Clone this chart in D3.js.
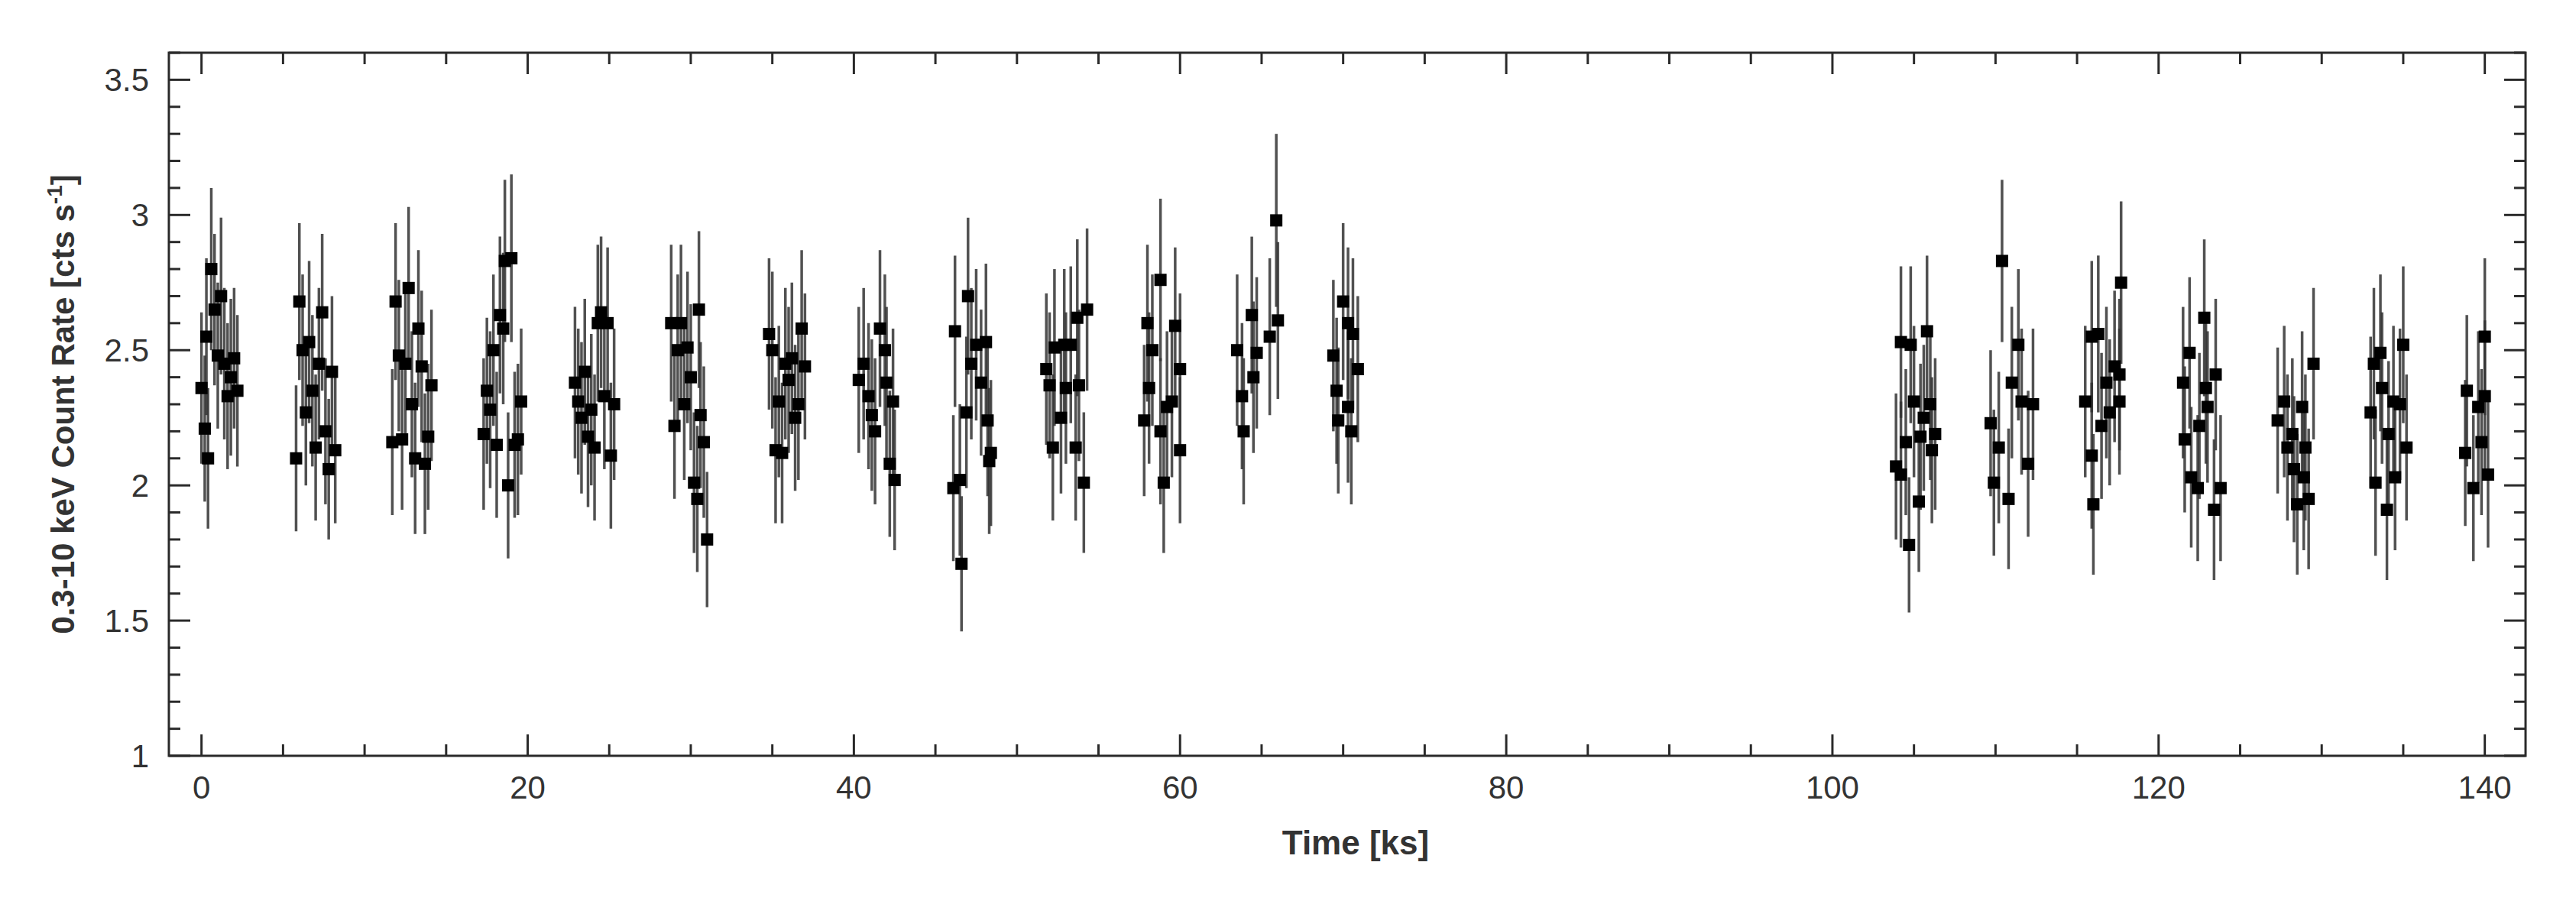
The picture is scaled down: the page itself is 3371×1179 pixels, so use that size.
<!DOCTYPE html>
<html><head><meta charset="utf-8">
<script src="https://cdn.jsdelivr.net/npm/d3@7"></script>
<style>body{margin:0;background:#fff}</style>
</head><body>
<div id="chart"></div>
<script>
// light curve points: [time ks, count rate, 1-sigma error]
var seg1 = [[0.0,2.36,.28],[0.2,2.21,.27],[0.3,2.55,.29],[0.4,2.10,.26],[0.6,2.80,.30],[0.8,2.65,.28],[1.0,2.48,.27],[1.2,2.70,.29],[1.4,2.45,.28],[1.6,2.33,.27],[1.8,2.40,.29],[2.0,2.47,.26],[2.2,2.35,.28]];
var seg2 = [[5.8,2.10,.27],[6.0,2.68,.29],[6.2,2.50,.28],[6.4,2.27,.27],[6.6,2.53,.30],[6.8,2.35,.28],[7.0,2.14,.27],[7.2,2.45,.28],[7.4,2.64,.29],[7.6,2.20,.27],[7.8,2.06,.26],[8.0,2.42,.28],[8.2,2.13,.27]];
var seg3 = [[11.7,2.16,.27],[11.9,2.68,.29],[12.1,2.48,.28],[12.3,2.17,.26],[12.5,2.45,.28],[12.7,2.73,.30],[12.9,2.30,.27],[13.1,2.10,.28],[13.3,2.58,.29],[13.5,2.44,.28],[13.7,2.08,.26],[13.9,2.18,.27],[14.1,2.37,.28]];
var seg4 = [[17.3,2.19,.28],[17.5,2.35,.27],[17.7,2.28,.29],[17.9,2.50,.28],[18.1,2.15,.27],[18.3,2.63,.29],[18.5,2.58,.28],[18.6,2.83,.30],[18.8,2.00,.27],[19.0,2.84,.31],[19.2,2.15,.27],[19.4,2.17,.28],[19.6,2.31,.27]];
var seg5 = [[22.9,2.38,.28],[23.1,2.31,.27],[23.3,2.25,.28],[23.5,2.42,.27],[23.7,2.18,.26],[23.9,2.28,.28],[24.1,2.14,.27],[24.3,2.60,.29],[24.5,2.64,.28],[24.7,2.33,.27],[24.9,2.60,.28],[25.1,2.11,.27],[25.3,2.30,.28]];
var seg6 = [[28.8,2.60,.29],[29.0,2.22,.27],[29.2,2.50,.28],[29.4,2.60,.29],[29.6,2.30,.28],[29.8,2.51,.28],[30.0,2.40,.27],[30.2,2.01,.26],[30.4,1.95,.27],[30.5,2.65,.29],[30.6,2.26,.27],[30.8,2.16,.28],[31.0,1.80,.25]];
var seg7 = [[34.8,2.56,.28],[35.0,2.50,.29],[35.2,2.13,.27],[35.4,2.31,.28],[35.6,2.12,.26],[35.8,2.45,.28],[36.0,2.39,.27],[36.2,2.47,.28],[36.4,2.25,.27],[36.6,2.30,.28],[36.8,2.58,.29],[37.0,2.44,.27]];
var seg8 = [[40.3,2.39,.27],[40.6,2.45,.28],[40.9,2.33,.27],[41.1,2.26,.28],[41.3,2.20,.27],[41.6,2.58,.29],[41.9,2.50,.28],[42.2,2.08,.27],[42.5,2.02,.26],[42.0,2.38,.28],[42.4,2.31,.27]];
var seg9 = [[46.1,1.99,.27],[46.5,2.02,.28],[46.6,1.71,.25],[46.2,2.57,.28],[46.9,2.27,.28],[47.0,2.70,.29],[47.2,2.45,.28],[47.5,2.52,.28],[48.1,2.53,.29],[47.8,2.38,.27],[48.2,2.24,.28],[48.3,2.09,.27],[48.4,2.12,.27]];
var seg10 = [[51.8,2.43,.28],[52.0,2.37,.27],[52.3,2.51,.29],[52.2,2.14,.27],[52.7,2.25,.28],[53.0,2.36,.28],[53.3,2.52,.29],[53.6,2.14,.27],[53.8,2.37,.28],[53.7,2.62,.29],[54.3,2.65,.30],[54.1,2.01,.26],[52.9,2.52,.28]];
var seg11 = [[57.8,2.24,.28],[58.0,2.60,.29],[58.1,2.36,.28],[58.8,2.76,.30],[58.3,2.50,.28],[58.8,2.20,.27],[59.2,2.29,.28],[59.0,2.01,.26],[59.7,2.59,.29],[60.0,2.43,.28],[60.0,2.13,.27],[59.5,2.31,.28]];
var seg12 = [[63.5,2.50,.28],[63.8,2.33,.27],[63.9,2.20,.27],[64.4,2.63,.29],[64.5,2.40,.28],[64.7,2.49,.28],[65.5,2.55,.29],[65.9,2.98,.32],[66.0,2.61,.29]];
var seg13 = [[69.4,2.48,.28],[69.6,2.35,.27],[70.0,2.68,.29],[69.7,2.24,.27],[70.3,2.60,.28],[70.6,2.56,.28],[70.9,2.43,.27],[70.5,2.20,.27],[70.3,2.29,.28]];
var seg14 = [[103.9,2.07,.27],[104.2,2.53,.28],[104.2,2.04,.27],[104.5,2.16,.27],[104.8,2.52,.29],[104.7,1.78,.25],[105.0,2.31,.28],[105.3,1.94,.26],[105.4,2.18,.27],[105.8,2.57,.28],[105.6,2.25,.27],[106.1,2.13,.27],[106.3,2.19,.28],[106.0,2.30,.28]];
var seg15 = [[109.7,2.23,.27],[109.9,2.01,.27],[110.2,2.14,.28],[110.4,2.83,.30],[110.8,1.95,.26],[111.0,2.38,.28],[111.4,2.52,.28],[111.6,2.31,.27],[112.0,2.08,.27],[112.3,2.30,.28]];
var seg16 = [[115.5,2.31,.28],[115.9,2.55,.28],[115.9,2.11,.27],[116.0,1.93,.26],[116.3,2.56,.29],[116.5,2.22,.27],[116.8,2.38,.28],[117.0,2.27,.27],[117.3,2.44,.28],[117.6,2.31,.27],[117.6,2.41,.28],[117.7,2.75,.30]];
var seg17 = [[121.5,2.38,.28],[121.6,2.17,.27],[121.9,2.49,.28],[122.0,2.03,.26],[122.4,1.99,.27],[122.8,2.62,.29],[123.0,2.29,.28],[122.9,2.36,.28],[123.4,1.91,.26],[123.5,2.41,.28],[123.8,1.99,.27],[122.5,2.22,.27]];
var seg18 = [[127.3,2.24,.27],[127.7,2.31,.28],[127.9,2.14,.27],[128.3,2.06,.27],[128.5,1.93,.26],[128.2,2.19,.28],[128.8,2.29,.28],[128.9,2.03,.27],[129.2,1.95,.26],[129.5,2.45,.28],[129.0,2.14,.27]];
var seg19 = [[133.0,2.27,.28],[133.2,2.45,.28],[133.3,2.01,.27],[133.7,2.36,.28],[133.6,2.49,.29],[134.0,1.91,.26],[134.1,2.19,.27],[134.5,2.03,.27],[134.8,2.30,.28],[135.0,2.52,.29],[135.2,2.14,.27],[134.4,2.31,.28]];
var seg20 = [[138.8,2.12,.27],[138.9,2.35,.28],[139.3,1.99,.27],[139.6,2.29,.28],[140.0,2.55,.29],[140.0,2.33,.28],[140.2,2.04,.27],[139.8,2.16,.27]];

var xTicks = [0, 20, 40, 60, 80, 100, 120, 140];
var yTicks = [1, 1.5, 2, 2.5, 3, 3.5];

var data = [].concat(seg1,seg2,seg3,seg4,seg5,seg6,seg7,seg8,seg9,seg10,
    seg11,seg12,seg13,seg14,seg15,seg16,seg17,seg18,seg19,seg20);

var W = 3371, H = 1179;
var m = {left: 221, right: 66, top: 69, bottom: 190};
var svg = d3.select("#chart").append("svg").attr("width", W).attr("height", H)
    .style("font-family", "'Liberation Sans', Arial, sans-serif");

var x = d3.scaleLinear().domain([-2, 142.5]).range([m.left, W - m.right]);
var y = d3.scaleLinear().domain([1, 3.6]).range([H - m.bottom, m.top]);

var ink = "#2a2a2a";
// inward ticks on all four sides
var minorX = d3.range(0, 141, 5), minorY = d3.range(1, 3.61, 0.1);
function tickLen(v, step) { return Math.abs(v / step - Math.round(v / step)) < 1e-6 ? 28 : 15; }
var g = svg.append("g").attr("stroke", ink).attr("stroke-width", 3);
minorX.forEach(function(v) {
  var L = tickLen(v, 20);
  g.append("line").attr("x1", x(v)).attr("x2", x(v)).attr("y1", y(1)).attr("y2", y(1) - L);
  g.append("line").attr("x1", x(v)).attr("x2", x(v)).attr("y1", y(3.6)).attr("y2", y(3.6) + L);
});
minorY.forEach(function(v) {
  var L = tickLen(v, 0.5);
  g.append("line").attr("y1", y(v)).attr("y2", y(v)).attr("x1", x(-2)).attr("x2", x(-2) + L);
  g.append("line").attr("y1", y(v)).attr("y2", y(v)).attr("x1", x(142.5)).attr("x2", x(142.5) - L);
});

svg.selectAll(".xl").data(xTicks).enter().append("text")
  .attr("x", function(d) { return x(d); }).attr("y", H - m.bottom + 56)
  .attr("text-anchor", "middle").attr("font-size", 42).attr("fill", "#333").text(function(d) { return d; });
svg.selectAll(".yl").data(yTicks).enter().append("text")
  .attr("x", m.left - 26).attr("y", function(d) { return y(d) + 15; })
  .attr("text-anchor", "end").attr("font-size", 42).attr("fill", "#333").text(function(d) { return d; });

// error bars and markers
svg.append("g").selectAll("line").data(data).enter().append("line")
  .attr("x1", function(d) { return x(d[0]); }).attr("x2", function(d) { return x(d[0]); })
  .attr("y1", function(d) { return y(d[1] - d[2]); }).attr("y2", function(d) { return y(d[1] + d[2]); })
  .attr("stroke", "#333").attr("stroke-width", 3.5).attr("opacity", 0.85);
svg.append("g").selectAll("rect").data(data).enter().append("rect")
  .attr("x", function(d) { return x(d[0]) - 8; }).attr("y", function(d) { return y(d[1]) - 8; })
  .attr("width", 16).attr("height", 16).attr("fill", "#000");

svg.append("rect").attr("x", m.left).attr("y", m.top)
  .attr("width", W - m.left - m.right).attr("height", H - m.top - m.bottom)
  .attr("fill", "none").attr("stroke", ink).attr("stroke-width", 3);

svg.append("text").attr("x", 1774).attr("y", 1118).attr("text-anchor", "middle")
  .attr("font-size", 44).attr("font-weight", "bold").attr("fill", "#333").text("Time [ks]");
var yt = svg.append("text").attr("transform", "translate(97," + y(2.3) + ") rotate(-90)")
  .attr("text-anchor", "middle").attr("font-size", 42).attr("font-weight", "bold").attr("fill", "#333");
yt.append("tspan").text("0.3-10 keV Count Rate  [cts s");
yt.append("tspan").attr("dy", -16).attr("font-size", 28).text("-1");
yt.append("tspan").attr("dy", 16).text("]");
</script>
</body></html>
